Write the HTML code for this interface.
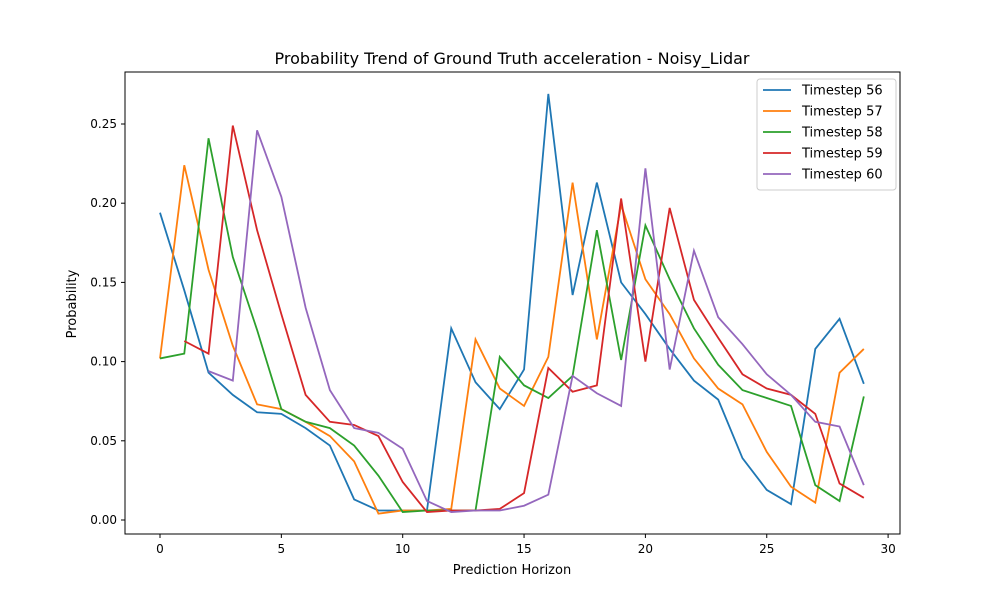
<!DOCTYPE html>
<html><head><meta charset="utf-8"><style>
body{margin:0;background:#fff;font-family:"Liberation Sans","DejaVu Sans",sans-serif;}
</style></head><body>
<svg id="chart" width="1000" height="600" xmlns="http://www.w3.org/2000/svg" font-family="DejaVu Sans, Liberation Sans, sans-serif">
<rect width="1000" height="600" fill="#fff"/>
<text x="512" y="64" text-anchor="middle" font-size="16">Probability Trend of Ground Truth acceleration - Noisy_Lidar</text>
<text x="512" y="574" text-anchor="middle" font-size="13">Prediction Horizon</text>
<text x="76" y="304" text-anchor="middle" font-size="13" transform="rotate(-90 76 304)">Probability</text>
<g id="ticks"></g>
<g id="lines"></g>
<rect x="125" y="72" width="775" height="462" fill="none" stroke="#000" stroke-width="1"/>
<g id="legend"></g>
</svg>
<script>
const xTicks=[0,5,10,15,20,25,30];
const yTicks=[0,0.05,0.10,0.15,0.20,0.25];
const yTickLabels=["0.00","0.05","0.10","0.15","0.20","0.25"];
const seriesNames=["Timestep 56","Timestep 57","Timestep 58","Timestep 59","Timestep 60"];
const seriesColors=["#1f77b4","#ff7f0e","#2ca02c","#d62728","#9467bd"];
const seriesStart=[0,0,0,1,2];
const s56=[0.194,0.145,0.093,0.079,0.068,0.067,0.058,0.047,0.013,0.006,0.006,0.006,0.121,0.087,0.070,0.095,0.269,0.142,0.213,0.150,0.130,0.108,0.088,0.076,0.039,0.019,0.010,0.108,0.127,0.086];
const s57=[0.102,0.224,0.158,0.110,0.073,0.070,0.062,0.053,0.037,0.004,0.006,0.006,0.007,0.114,0.083,0.072,0.103,0.213,0.114,0.199,0.152,0.130,0.102,0.083,0.073,0.043,0.021,0.011,0.093,0.108];
const s58=[0.102,0.105,0.241,0.166,0.120,0.070,0.062,0.058,0.047,0.028,0.005,0.006,0.006,0.006,0.103,0.085,0.077,0.091,0.183,0.101,0.186,0.152,0.121,0.098,0.082,0.077,0.072,0.022,0.012,0.078];
const s59=[0.113,0.105,0.249,0.183,0.130,0.079,0.062,0.060,0.053,0.024,0.005,0.006,0.006,0.007,0.017,0.096,0.081,0.085,0.203,0.100,0.197,0.139,0.115,0.092,0.083,0.079,0.067,0.023,0.014];
const s60=[0.094,0.088,0.246,0.204,0.134,0.082,0.058,0.055,0.045,0.012,0.005,0.006,0.006,0.009,0.016,0.091,0.080,0.072,0.222,0.095,0.170,0.128,0.111,0.092,0.079,0.062,0.059,0.022];
const allSeries=[s56,s57,s58,s59,s60];
const NS="http://www.w3.org/2000/svg";
const xs=v=>160+v*(888-160)/29*29/30*30/29*29/30; // placeholder replaced below
function X(v){return 160+v*24.27;}
function Y(v){return 520-v*1584;}
const tg=document.getElementById('ticks');
xTicks.forEach(t=>{
 const l=document.createElementNS(NS,'line');l.setAttribute('x1',X(t));l.setAttribute('x2',X(t));l.setAttribute('y1',534);l.setAttribute('y2',538);l.setAttribute('stroke','#000');
 
 
 tg.appendChild(l);
 const tx=document.createElementNS(NS,'text');tx.setAttribute('x',X(t));tx.setAttribute('y',553);tx.setAttribute('text-anchor','middle');tx.setAttribute('font-size','12');tx.textContent=t;
 
 
 tg.appendChild(tx);
});
yTicks.forEach((t,i)=>{
 const l=document.createElementNS(NS,'line');l.setAttribute('x1',121);l.setAttribute('x2',125);l.setAttribute('y1',Y(t));l.setAttribute('y2',Y(t));l.setAttribute('stroke','#000');
 
 
 tg.appendChild(l);
 const tx=document.createElementNS(NS,'text');tx.setAttribute('x',117);tx.setAttribute('y',Y(t)+4);tx.setAttribute('text-anchor','end');tx.setAttribute('font-size','12');tx.textContent=yTickLabels[i];
 
 
 tg.appendChild(tx);
});
const lg=document.getElementById('lines');
allSeries.forEach((s,k)=>{
 const p=document.createElementNS(NS,'polyline');
 p.setAttribute('points',s.map((v,i)=>X(i+seriesStart[k])+','+Y(v)).join(' '));
 p.setAttribute('fill','none');p.setAttribute('stroke',seriesColors[k]);p.setAttribute('stroke-width','1.8');
 
 
 lg.appendChild(p);
});
const leg=document.getElementById('legend');
const box=document.createElementNS(NS,'rect');
box.setAttribute('x',757);box.setAttribute('y',79);box.setAttribute('width',139);box.setAttribute('height',111);box.setAttribute('rx',3);box.setAttribute('fill','#fff');box.setAttribute('fill-opacity','0.8');box.setAttribute('stroke','#ccc');


leg.appendChild(box);
seriesNames.forEach((n,k)=>{
 const y=90+k*21;
 const l=document.createElementNS(NS,'line');l.setAttribute('x1',763);l.setAttribute('x2',791);l.setAttribute('y1',y);l.setAttribute('y2',y);l.setAttribute('stroke',seriesColors[k]);l.setAttribute('stroke-width','1.8');
 
 
 leg.appendChild(l);
 const t=document.createElementNS(NS,'text');t.setAttribute('x',802);t.setAttribute('y',y+4.5);t.setAttribute('font-size','13');t.textContent=n;
 
 
 leg.appendChild(t);
});
</script>
</body></html>
